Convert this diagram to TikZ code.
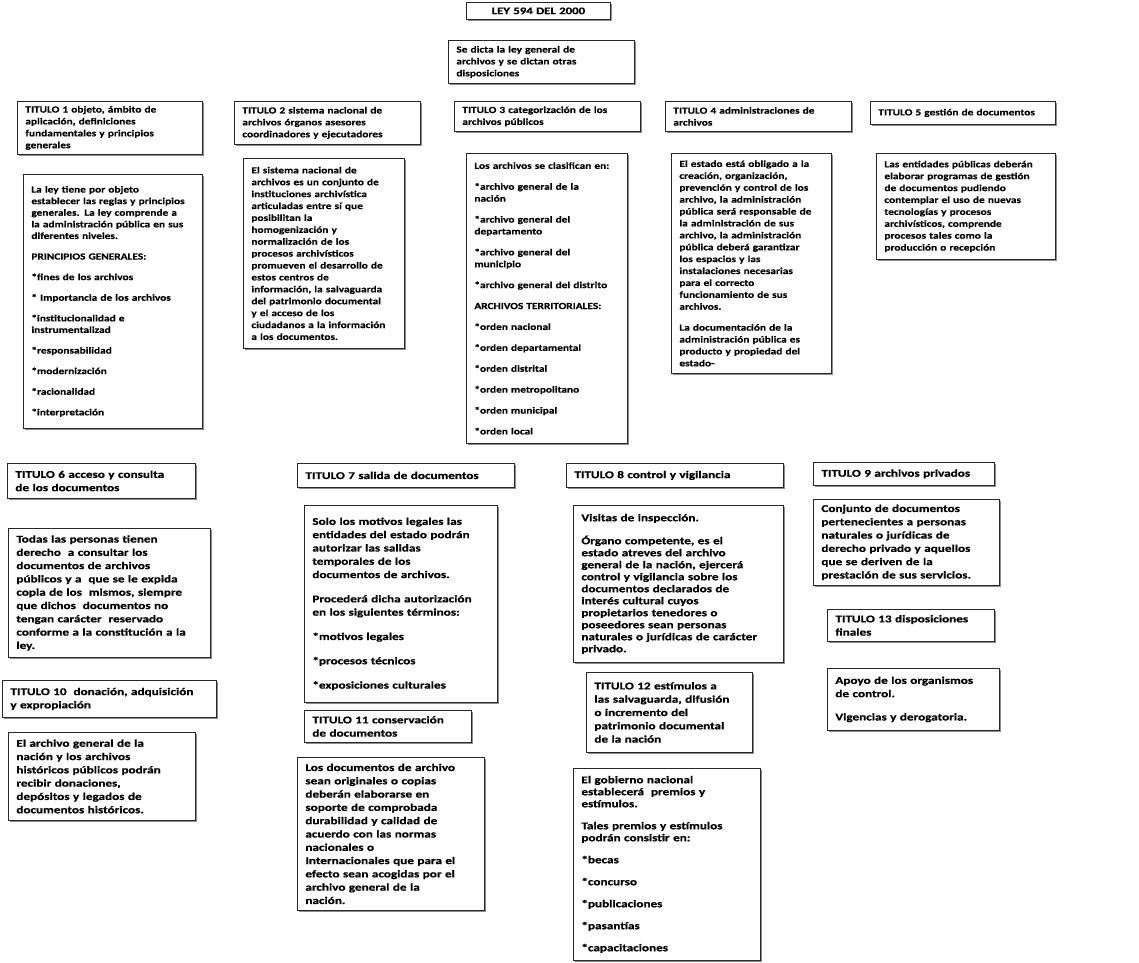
\documentclass[tikz,border=0pt]{standalone}
\usepackage{fontspec}
\setmainfont{Carlito}
\newfontfamily\letraarriba[FakeStretch=1.22, FakeBold=0.4]{Carlito}
\newfontfamily\letraabajo[FakeStretch=1.28, FakeBold=0.8]{Carlito}
\usepackage{xcolor}
\usetikzlibrary{positioning, shadows}
\definecolor{BordeGris}{RGB}{40, 40, 40}
\definecolor{SombraGris}{RGB}{140, 140, 140}

\begin{document}
\begin{tikzpicture}[
    x=1pt, y=-1pt,
    every node/.style={inner sep=3pt},
    caja/.style={rectangle, draw=BordeGris, line width=0.8pt, fill=white,
                 anchor=north west, align=left, inner xsep=8pt, inner ysep=4pt,
                 drop shadow={shadow xshift=1.3pt, shadow yshift=-1.3pt,
                              fill=SombraGris, opacity=1}},
    arriba/.style={caja, font=\letraarriba\fontsize{9.3pt}{11.9pt}\selectfont\bfseries},
    abajo/.style={caja, font=\letraabajo\fontsize{10.3pt}{13.3pt}\selectfont\bfseries},
    apretado/.style={font=\letraabajo\fontsize{10.3pt}{12pt}\selectfont\bfseries},
    ley/.style={caja, align=center, font=\letraabajo\fontsize{10pt}{11pt}\selectfont\bfseries}
]
\useasboundingbox (0,0) rectangle (1139,962);

% --- Encabezado -------------------------------------------------------
\node[ley, minimum width=144pt, minimum height=17pt, text width=128pt, inner ysep=2pt] (ley)
      at (466,2) {LEY 594 DEL 2000};
\node[arriba, minimum width=186pt, minimum height=43pt, text width=170pt] (dicta)
      at (448,40) {Se dicta la ley general de\\archivos y se dictan otras\\disposiciones};

% --- Titulos 1 a 5 ----------------------------------------------------
\node[arriba, minimum width=185pt, minimum height=53pt, text width=169pt] (t1)
      at (17,101) {TITULO 1 objeto, ámbito de\\aplicación, definiciones\\fundamentales y principios\\generales};
\node[arriba, minimum width=186pt, minimum height=43pt, text width=170pt] (t2)
      at (234,101) {TITULO 2 sistema nacional de\\archivos órganos asesores\\coordinadores y ejecutadores};
\node[arriba, minimum width=186pt, minimum height=30pt, text width=170pt] (t3)
      at (454,101) {TITULO 3 categorización de los\\archivos públicos};
\node[arriba, minimum width=186pt, minimum height=30pt, text width=170pt] (t4)
      at (665,101) {TITULO 4 administraciones de\\archivos};
\node[arriba, minimum width=185pt, minimum height=23pt, text width=169pt] (t5)
      at (870,101) {TITULO 5 gestión de documentos};

\node[arriba, minimum width=179pt, minimum height=254pt, text width=163pt,
      font=\letraarriba\fontsize{9.3pt}{11.6pt}\selectfont\bfseries] (t1cuerpo)
      at (23,174) {La ley tiene por objeto\\establecer las reglas y principios\\generales. La ley comprende a\\la administración pública en sus\\diferentes niveles.\\[9pt]
      PRINCIPIOS GENERALES:\\[9pt]
      *fines de los archivos\\[9pt]
      * Importancia de los archivos\\[9pt]
      *institucionalidad e\\instrumentalizad\\[9pt]
      *responsabilidad\\[9pt]
      *modernización\\[9pt]
      *racionalidad\\[9pt]
      *interpretación};
\node[arriba, minimum width=161pt, minimum height=190pt, text width=145pt] (t2cuerpo)
      at (243,158) {El sistema nacional de\\archivos es un conjunto de\\instituciones archivística\\articuladas entre sí que\\posibilitan la\\homogenización y\\normalización de los\\procesos archivísticos\\promueven el desarrollo de\\estos centros de\\información, la salvaguarda\\del patrimonio documental\\y el acceso de los\\ciudadanos a la información\\a los documentos.};
\node[arriba, minimum width=161pt, minimum height=290pt, text width=145pt] (t3cuerpo)
      at (466,153) {Los archivos se clasifican en:\\[9pt]
      *archivo general de la\\nación\\[9pt]
      *archivo general del\\departamento\\[9pt]
      *archivo general del\\municipio\\[9pt]
      *archivo general del distrito\\[9pt]
      ARCHIVOS TERRITORIALES:\\[9pt]
      *orden nacional\\[9pt]
      *orden departamental\\[9pt]
      *orden distrital\\[9pt]
      *orden metropolitano\\[9pt]
      *orden municipal\\[9pt]
      *orden local};
\node[arriba, minimum width=160pt, minimum height=220pt, text width=144pt] (t4cuerpo)
      at (671,153) {El estado está obligado a la\\creación, organización,\\prevención y control de los\\archivo, la administración\\pública será responsable de\\la administración de sus\\archivo, la administración\\pública deberá garantizar\\los espacios y las\\instalaciones necesarias\\para el correcto\\funcionamiento de sus\\archivos.\\[9pt]
      La documentación de la\\administración pública es\\producto y propiedad del\\estado-};
\node[arriba, minimum width=179pt, minimum height=106pt, text width=163pt] (t5cuerpo)
      at (876,153) {Las entidades públicas deberán\\elaborar programas de gestión\\de documentos pudiendo\\contemplar el uso de nuevas\\tecnologías y procesos\\archivísticos, comprende\\procesos tales como la\\producción o recepción};

% --- Titulos 6 a 13 ---------------------------------------------------
\node[abajo, minimum width=188pt, minimum height=35pt, text width=172pt] (t6)
      at (7,463) {TITULO 6 acceso y consulta\\de los documentos};
\node[abajo, minimum width=202pt, minimum height=129pt, text width=186pt] (t6cuerpo)
      at (8,528) {Todas las personas tienen\\derecho\ \ a consultar los\\documentos de archivos\\públicos y a\ \ que se le expida\\copia de los\ \ mismos, siempre\\que dichos\ \ documentos no\\tengan carácter\ \ reservado\\conforme a la constitución a la\\ley.};
\node[abajo, minimum width=214pt, minimum height=37pt, text width=198pt] (t10)
      at (2,680) {TITULO 10\ \ donación, adquisición\\y expropiación};
\node[abajo, minimum width=187pt, minimum height=88pt, text width=171pt] (t10cuerpo)
      at (8,732) {El archivo general de la\\nación y los archivos\\históricos públicos podrán\\recibir donaciones,\\depósitos y legados de\\documentos históricos.};

\node[abajo, minimum width=217pt, minimum height=24pt, text width=201pt] (t7)
      at (297,463) {TITULO 7 salida de documentos};
\node[abajo, minimum width=193pt, minimum height=197pt, text width=177pt] (t7cuerpo)
      at (304,505) {Solo los motivos legales las\\entidades del estado podrán\\autorizar las salidas\\temporales de los\\documentos de archivos.\\[11pt]
      Procederá dicha autorización\\en los siguientes términos:\\[11pt]
      *motivos legales\\[11pt]
      *procesos técnicos\\[11pt]
      *exposiciones culturales\\[8pt]};
\node[abajo, minimum width=167pt, minimum height=32pt, text width=151pt] (t11)
      at (304,710) {TITULO 11 conservación\\de documentos};
\node[abajo, minimum width=187pt, minimum height=153pt, text width=171pt] (t11cuerpo)
      at (297,757) {Los documentos de archivo\\sean originales o copias\\deberán elaborarse en\\soporte de comprobada\\durabilidad y calidad de\\acuerdo con las normas\\nacionales o\\Internacionales que para el\\efecto sean acogidas por el\\archivo general de la\\nación.};

\node[abajo, minimum width=217pt, minimum height=24pt, text width=201pt] (t8)
      at (566,463) {TITULO 8 control y vigilancia};
\node[abajo, apretado, minimum width=210pt, minimum height=157pt, text width=194pt] (t8cuerpo)
      at (573,505) {Visitas de inspección.\\[11pt]
      Órgano competente, es el\\estado atreves del archivo\\general de la nación, ejercerá\\control y vigilancia sobre los\\documentos declarados de\\interés cultural cuyos\\propietarios tenedores o\\poseedores sean personas\\naturales o jurídicas de carácter\\privado.\\[6pt]};
\node[abajo, minimum width=166pt, minimum height=80pt, text width=150pt] (t12)
      at (586,672) {TITULO 12 estímulos a\\las salvaguarda, difusión\\o incremento del\\patrimonio documental\\de la nación};
\node[abajo, apretado, minimum width=187pt, minimum height=192pt, text width=171pt] (t12cuerpo)
      at (573,768) {El gobierno nacional\\establecerá\ \ premios y\\estímulos.\\[10pt]
      Tales premios y estímulos\\podrán consistir en:\\[10pt]
      *becas\\[10pt]
      *concurso\\[10pt]
      *publicaciones\\[10pt]
      *pasantías\\[10pt]
      *capacitaciones};

\node[abajo, minimum width=181pt, minimum height=23pt, text width=165pt] (t9)
      at (813,462) {TITULO 9 archivos privados};
\node[abajo, minimum width=186pt, minimum height=86pt, text width=170pt] (t9cuerpo)
      at (813,499) {Conjunto de documentos\\pertenecientes a personas\\naturales o jurídicas de\\derecho privado y aquellos\\que se deriven de la\\prestación de sus servicios.};
\node[abajo, minimum width=167pt, minimum height=32pt, text width=151pt] (t13)
      at (827,609) {TITULO 13 disposiciones\\finales};
\node[abajo, minimum width=172pt, minimum height=62pt, text width=156pt] (t13cuerpo)
      at (827,668) {Apoyo de los organismos\\de control.\\[10pt]
      Vigencias y derogatoria.};

\end{tikzpicture}
\end{document}
